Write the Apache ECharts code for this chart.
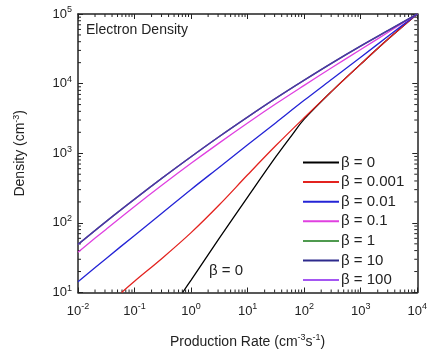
<!DOCTYPE html>
<html><head><meta charset="utf-8">
<script src="https://cdn.jsdelivr.net/npm/echarts@6/dist/echarts.min.js"></script>
<style>html,body{margin:0;padding:0;background:#fff}#c{width:430px;height:354px}</style>
</head><body><div id="c"></div><script>
// Production rate sample points (cm^-3 s^-1)
const rateGrid = [0.01, 0.0316, 0.1, 0.316, 1, 3.16, 10, 31.6, 100, 316, 1000, 3162, 10000];
const rateBeta0 = [0.708, 1, 3.16, 10, 31.6, 63.1, 100, 316, 1000, 3162, 10000];
const rateBeta0001 = [0.059, 0.1, 0.316, 1, 3.16, 10, 31.6, 100, 316, 1000, 3162, 10000];
// Electron density (cm^-3)
const densBeta0 = [10, 15.1, 60.3, 234, 891, 1900, 3090, 7940, 19050, 44700, 100000];
const densBeta0001 = [10, 14.5, 31.6, 72.4, 182, 490, 1290, 3240, 7940, 19050, 44700, 100000];
const densBeta001 = [14.3, 30.9, 66.1, 141, 302, 631, 1320, 2750, 5750, 11750, 24000, 49000, 100000];
const densBeta01 = [38, 81.3, 172, 355, 716, 1410, 2720, 5130, 9440, 17200, 30900, 55600, 100000];
const densBeta1 = [49, 105, 219, 447, 891, 1740, 3310, 6170, 11200, 19950, 34700, 58900, 100000];
const densBeta10 = [49, 105, 219, 447, 891, 1740, 3310, 6170, 11200, 19950, 34700, 58900, 100000];
const densBeta100 = [49, 105, 219, 447, 891, 1740, 3310, 6170, 11200, 19950, 34700, 58900, 100000];
const seriesNames = ['β = 0', 'β = 0.001', 'β = 0.01', 'β = 0.1', 'β = 1', 'β = 10', 'β = 100'];
const seriesColors = ['#000000', '#e3231f', '#2424d6', '#e040e0', '#4f9a4f', '#2d2a8c', '#a456f2'];

const zip = (xs, ys) => xs.map((x, i) => [x, ys[i]]);
const seriesData = [
  zip(rateBeta0, densBeta0),
  zip(rateBeta0001, densBeta0001),
  zip(rateGrid, densBeta001),
  zip(rateGrid, densBeta01),
  zip(rateGrid, densBeta1),
  zip(rateGrid, densBeta10),
  zip(rateGrid, densBeta100)
];
const order = [0, 1, 2, 3, 4, 6, 5]; // draw beta=100 before beta=10
const FONT = 'Liberation Sans, Arial, sans-serif';
const expFmt = v => '{b|10}{s|' + Math.round(Math.log10(v)) + '}';
const richTick = {
  b: {fontSize: 13, fontFamily: FONT, color: '#222'},
  s: {fontSize: 9, fontFamily: FONT, color: '#222', padding: [0, 0, 8, 0]}
};
const chart = echarts.init(document.getElementById('c'), null, {renderer: 'canvas'});
const axisCommon = {
  type: 'log', logBase: 10,
  axisLine: {show: true, lineStyle: {color: '#222', width: 1.5}},
  axisTick: {show: true, inside: true, length: 5, lineStyle: {color: '#222', width: 1}},
  splitLine: {show: false}
};
const option = {
  animation: false,
  backgroundColor: '#fff',
  title: {text: 'Electron Density', left: 81, top: 18,
    textStyle: {fontSize: 14, fontWeight: 'normal', fontFamily: FONT, color: '#222'}},
  grid: {left: 78, top: 14, right: 12, bottom: 56},
  legend: {
    orient: 'vertical', left: 298, top: 150, itemGap: 4.6,
    itemWidth: 36, itemHeight: 2, icon: 'rect',
    textStyle: {fontSize: 15, fontFamily: FONT, color: '#222', padding: [0, 0, 0, -3]},
    data: seriesNames
  },
  xAxis: [
    Object.assign({}, axisCommon, {min: 0.01, max: 10000, position: 'bottom',
      axisLabel: {formatter: expFmt, rich: richTick, margin: 10},
      name: '{n|Production Rate (cm}{s|-3}{n|s}{s|-1}{n|)}', nameLocation: 'middle', nameGap: 41,
      nameTextStyle: {rich: {n: {fontSize: 14, fontFamily: FONT, color: '#222'},
        s: {fontSize: 9, fontFamily: FONT, color: '#222', padding: [0, 0, 8, 0]}}}}),
    Object.assign({}, axisCommon, {min: 0.01, max: 10000, position: 'top', axisLabel: {show: false}})
  ],
  yAxis: [
    Object.assign({}, axisCommon, {min: 10, max: 100000, position: 'left',
      axisLabel: {formatter: expFmt, rich: richTick, margin: 6},
      name: '{n|Density (cm}{s|-3}{n|)}', nameLocation: 'middle', nameGap: 49,
      nameTextStyle: {rich: {n: {fontSize: 14, fontFamily: FONT, color: '#222'},
        s: {fontSize: 9, fontFamily: FONT, color: '#222', padding: [0, 0, 8, 0]}}}}),
    Object.assign({}, axisCommon, {min: 10, max: 100000, position: 'right', axisLabel: {show: false}})
  ],
  series: order.map(i => ({
    name: seriesNames[i], type: 'line', data: seriesData[i], smooth: 0.35,
    showSymbol: false, symbol: 'none', clip: true,
    lineStyle: {color: seriesColors[i], width: i === 5 ? 1.5 : 1.3, opacity: i === 5 ? 0.75 : 1},
    itemStyle: {color: seriesColors[i]}
  }))
};
chart.setOption(option);

// minor log ticks at 2..9 x 10^k, positioned through the axes' own scales
const els = [];
const gl = chart.getModel().getComponent('grid').coordinateSystem.getRect();
const tickStyle = {stroke: '#222', lineWidth: 1};
for (let k = -2; k < 4; k++) {
  for (let m = 2; m <= 9; m++) {
    const px = chart.convertToPixel({xAxisIndex: 0}, m * Math.pow(10, k));
    els.push({type: 'line', shape: {x1: px, y1: gl.y + gl.height, x2: px, y2: gl.y + gl.height - 3}, style: tickStyle, silent: true});
    els.push({type: 'line', shape: {x1: px, y1: gl.y, x2: px, y2: gl.y + 3}, style: tickStyle, silent: true});
  }
}
for (let k = 1; k < 5; k++) {
  for (let m = 2; m <= 9; m++) {
    const py = chart.convertToPixel({yAxisIndex: 0}, m * Math.pow(10, k));
    els.push({type: 'line', shape: {x1: gl.x, y1: py, x2: gl.x + 3, y2: py}, style: tickStyle, silent: true});
    els.push({type: 'line', shape: {x1: gl.x + gl.width, y1: py, x2: gl.x + gl.width - 3, y2: py}, style: tickStyle, silent: true});
  }
}
els.push({type: 'text', left: 209, top: 263, silent: true,
  style: {text: 'β = 0', font: '15px ' + FONT, fill: '#222'}});
chart.setOption({graphic: els});
</script></body></html>
